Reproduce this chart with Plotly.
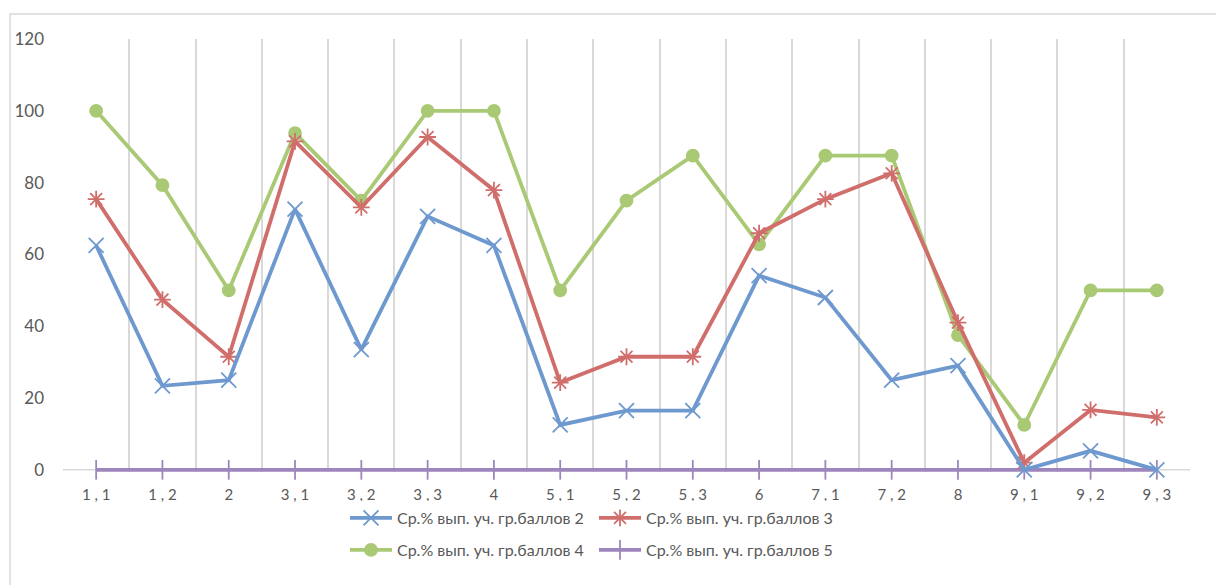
import plotly.graph_objects as go

# categories (task numbers)
categories = ["1,1", "1,2", "2", "3,1", "3,2", "3,3", "4", "5,1", "5,2", "5,3",
              "6", "7,1", "7,2", "8", "9,1", "9,2", "9,3"]
tick_labels = ["1 , 1", "1 , 2", "2", "3 , 1", "3 , 2", "3 , 3", "4", "5 , 1", "5 , 2", "5 , 3",
               "6", "7 , 1", "7 , 2", "8", "9 , 1", "9 , 2", "9 , 3"]

grade2 = [62.5, 23.4, 25, 72.6, 33.5, 70.6, 62.5, 12.5, 16.5, 16.5,
          54.1, 48, 25, 29, 0, 5.3, 0]
grade3 = [75.4, 47.4, 31.5, 91.5, 73.1, 92.7, 77.9, 24.3, 31.5, 31.5,
          65.9, 75.4, 82.6, 41, 2, 16.7, 14.6]
grade4 = [100, 79.3, 50, 93.8, 75, 100, 100, 50, 75, 87.5,
          62.8, 87.5, 87.5, 37.5, 12.5, 50, 50]
grade5 = [0] * 17

names = ["Ср.% вып. уч. гр.баллов 2", "Ср.% вып. уч. гр.баллов 3",
         "Ср.% вып. уч. гр.баллов 4", "Ср.% вып. уч. гр.баллов 5"]

FONT = "Lato"
GREY = "#595959"
GRID = "#D9D9D9"

fig = go.Figure()

series = [
    (grade2, names[0], "#6E99CF", "x-thin-open", 15, "legend"),
    (grade3, names[1], "#D06E6C", "asterisk-open", 14, "legend"),
    (grade4, names[2], "#A9C975", "circle", 12, "legend2"),
    (grade5, names[3], "#9E86BD", "line-ns-open", 14, "legend2"),
]
# purple first so it sits under the others
for vals, name, color, sym, size, leg in reversed(series):
    fig.add_trace(go.Scatter(
        x=categories, y=vals, name=name, mode="lines+markers",
        line=dict(color=color, width=3.8),
        marker=dict(symbol=sym, size=size, color=color,
                    line=dict(color=color, width=1.8)),
        cliponaxis=False,
        legend=leg,
    ))

legend_style = dict(orientation="h", x=345 / 1216, xref="container", xanchor="left",
                    yref="container", yanchor="middle", itemwidth=42,
                    entrywidth=192, entrywidthmode="pixels", traceorder="reversed",
                    font=dict(size=16, color=GREY))

fig.update_layout(
    width=1216, height=585,
    margin=dict(l=63, r=26, t=39, b=113, autoexpand=False),
    paper_bgcolor="white", plot_bgcolor="white",
    font=dict(family=FONT, color=GREY),
    legend=dict(legend_style, y=1 - 518 / 585),
    legend2=dict(legend_style, y=1 - 550 / 585),
    xaxis=dict(
        type="category", range=[-0.5, 16.5],
        tickvals=categories, ticktext=tick_labels,
        tickson="boundaries", showgrid=True, gridcolor=GRID, gridwidth=1.5,
        showline=False, zeroline=False, ticks="",
        ticklabelstandoff=12,
        tickfont=dict(size=15, color=GREY),
    ),
    yaxis=dict(
        range=[-0.6, 120], tickvals=[0, 20, 40, 60, 80, 100, 120],
        showgrid=False, zeroline=False, showline=False, ticks="",
        ticklabelstandoff=18,
        tickfont=dict(size=17, color=GREY),
    ),
    shapes=[
        dict(type="rect", xref="paper", yref="paper",
             x0=-0.047, x1=1.06, y0=-0.4, y1=1.058,
             line=dict(color=GRID, width=1.5), layer="below"),
        dict(type="line", xref="paper", yref="y", x0=0, x1=1, y0=0, y1=0,
             line=dict(color=GRID, width=1.5), layer="below"),
    ],
)

# drop the page's default body margin so the figure sits at the window's corner
fig.write_html("out.html", config={"displayModeBar": False},
               post_script="document.body.style.margin='0';")
